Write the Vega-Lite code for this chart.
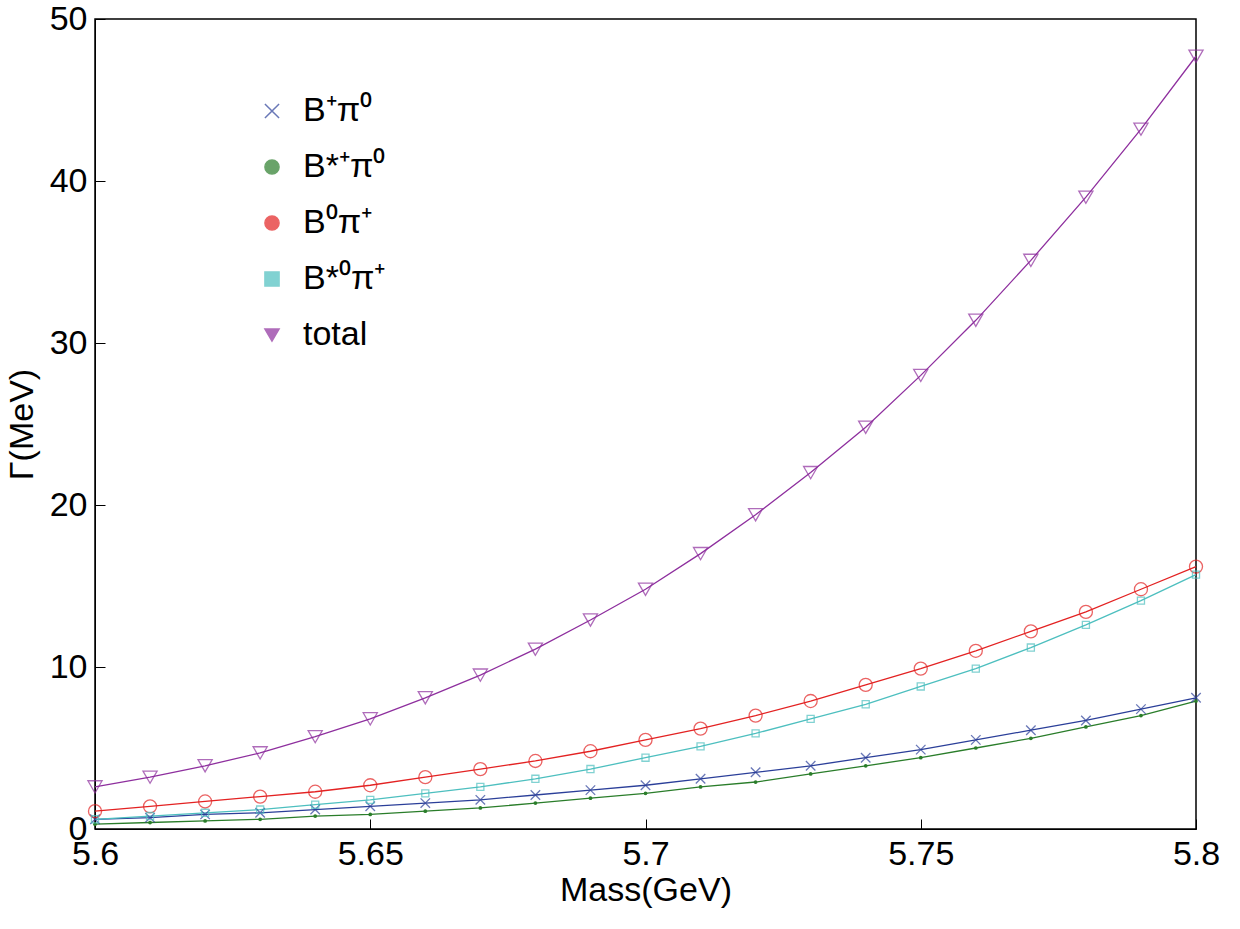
{
"$schema":"https://vega.github.io/schema/vega-lite/v6.json",
"width":1240,"height":929,
"autosize":{"type":"fit","contains":"padding"},
"padding":{"left":5,"top":2,"right":20,"bottom":22},
"background":"white",
"config":{"font":"Liberation Sans","view":{"stroke":"black","strokeWidth":1.5}},
"data":{"values":[
{"m":5.60,"a":0.6,"b":0.3,"c":1.1,"d":0.6,"t":2.6},
{"m":5.61,"a":0.7,"b":0.4,"c":1.4,"d":0.8,"t":3.2},
{"m":5.62,"a":0.9,"b":0.5,"c":1.7,"d":1.0,"t":3.9},
{"m":5.63,"a":1.0,"b":0.6,"c":2.0,"d":1.2,"t":4.7},
{"m":5.64,"a":1.2,"b":0.8,"c":2.3,"d":1.5,"t":5.7},
{"m":5.65,"a":1.4,"b":0.9,"c":2.7,"d":1.8,"t":6.8},
{"m":5.66,"a":1.6,"b":1.1,"c":3.2,"d":2.2,"t":8.1},
{"m":5.67,"a":1.8,"b":1.3,"c":3.7,"d":2.6,"t":9.5},
{"m":5.68,"a":2.1,"b":1.6,"c":4.2,"d":3.1,"t":11.1},
{"m":5.69,"a":2.4,"b":1.9,"c":4.8,"d":3.7,"t":12.9},
{"m":5.70,"a":2.7,"b":2.2,"c":5.5,"d":4.4,"t":14.8},
{"m":5.71,"a":3.1,"b":2.6,"c":6.2,"d":5.1,"t":17.0},
{"m":5.72,"a":3.5,"b":2.9,"c":7.0,"d":5.9,"t":19.4},
{"m":5.73,"a":3.9,"b":3.4,"c":7.9,"d":6.8,"t":22.0},
{"m":5.74,"a":4.4,"b":3.9,"c":8.9,"d":7.7,"t":24.8},
{"m":5.75,"a":4.9,"b":4.4,"c":9.9,"d":8.8,"t":28.0},
{"m":5.76,"a":5.5,"b":5.0,"c":11.0,"d":9.9,"t":31.4},
{"m":5.77,"a":6.1,"b":5.6,"c":12.2,"d":11.2,"t":35.1},
{"m":5.78,"a":6.7,"b":6.3,"c":13.4,"d":12.6,"t":39.0},
{"m":5.79,"a":7.4,"b":7.0,"c":14.8,"d":14.1,"t":43.2},
{"m":5.80,"a":8.1,"b":7.9,"c":16.2,"d":15.7,"t":47.7}
]},
"transform":[
{"fold":["a","b","c","d","t"],"as":["k","v"]},
{"lookup":"k","from":{"data":{"values":[
{"k":"a","s":"B⁺π⁰"},{"k":"b","s":"B*⁺π⁰"},{"k":"c","s":"B⁰π⁺"},{"k":"d","s":"B*⁰π⁺"},{"k":"t","s":"total"}]},"key":"k","fields":["s"]}}
],
"encoding":{
"x":{"field":"m","type":"quantitative","scale":{"domain":[5.6,5.8],"nice":false,"zero":false},
 "axis":{"title":"Mass(GeV)","values":[5.6,5.65,5.7,5.75,5.8],"format":"~g","grid":false,"labelFontSize":34,"titleFontSize":34,"titleFontWeight":"normal","labelColor":"black","titleColor":"black","tickColor":"black","domainColor":"black","tickSize":-10,"labelPadding":18,"titlePadding":2,"labelFlush":false}},
"y":{"field":"v","type":"quantitative","scale":{"domain":[0,50],"nice":false},
 "axis":{"title":"Γ(MeV)","values":[0,10,20,30,40,50],"grid":false,"labelFontSize":34,"titleFontSize":34,"titleFontWeight":"normal","labelColor":"black","titleColor":"black","tickColor":"black","domainColor":"black","tickSize":-10,"labelPadding":18,"titlePadding":10}},
"color":{"field":"s","type":"nominal",
 "scale":{"domain":["B⁺π⁰","B*⁺π⁰","B⁰π⁺","B*⁰π⁺","total"],"range":["#2b3f99","#2a7d2a","#e32222","#4dbfbf","#8e2f9e"]},
 "legend":{"title":null,"orient":"none","legendX":160,"legendY":75,"labelFontSize":34,"labelColor":"black","rowPadding":22,"symbolSize":200,"symbolStrokeWidth":1.5,"labelOffset":14}},
"shape":{"field":"s","type":"nominal","scale":{"domain":["B⁺π⁰","B*⁺π⁰","B⁰π⁺","B*⁰π⁺","total"],"range":["M-1,-1L1,1M1,-1L-1,1","circle","circle","square","triangle-down"]}}
},
"layer":[
{"mark":{"type":"line","strokeWidth":1.3},"encoding":{"shape":null}},
{"transform":[{"filter":"datum.k=='a'"}],"mark":{"type":"point","filled":false,"strokeWidth":1.3,"size":90}},
{"transform":[{"filter":"datum.k=='b'"}],"mark":{"type":"point","filled":true,"opacity":1,"size":14}},
{"transform":[{"filter":"datum.k=='c'"}],"mark":{"type":"point","filled":false,"strokeWidth":1.3,"size":170}},
{"transform":[{"filter":"datum.k=='d'"}],"mark":{"type":"point","filled":false,"strokeWidth":1.3,"size":50}},
{"transform":[{"filter":"datum.k=='t'"}],"mark":{"type":"point","filled":false,"strokeWidth":1.3,"size":200}}
]
}
